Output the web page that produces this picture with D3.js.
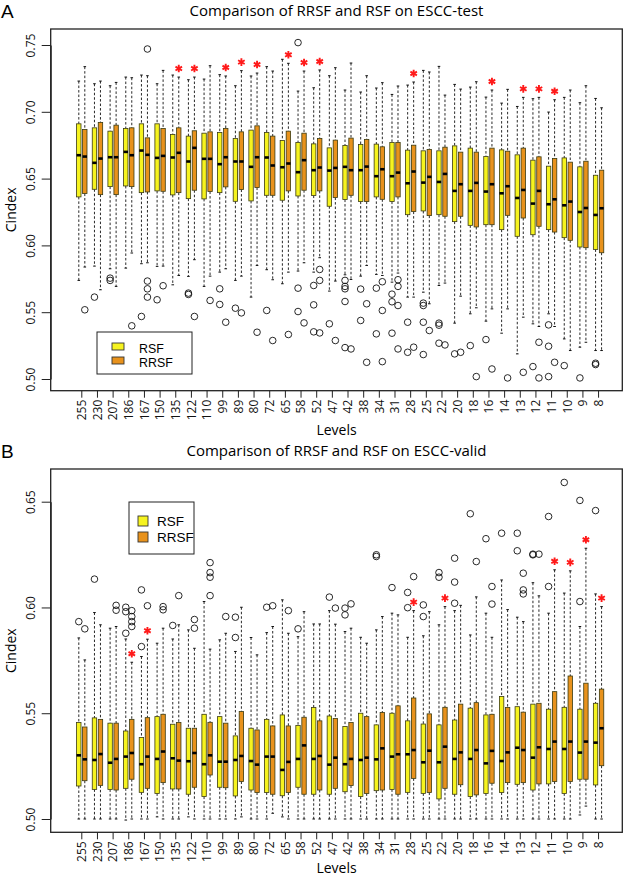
<!DOCTYPE html>
<html><head><meta charset="utf-8">
<script src="https://cdn.jsdelivr.net/npm/d3@7"></script>
<style>
html,body{margin:0;padding:0;background:#fff;}
svg{display:block;font-family:"Open Sans",sans-serif;}
</style></head>
<body>
<svg id="c" width="625" height="878"></svg>
<script>
const levels = ["255","230","207","186","167","150","135","122","110","99","89","80","72","65","58","52","47","42","38","34","31","28","25","22","20","18","16","14","13","12","11","10","9","8"];
const series = ["RSF","RRSF"];
const colors = ["#f6f31f","#e8921c"];

// Panel A: [lower whisker, Q1, median, Q3, upper whisker]
const rsfA = [
[0.5738,0.6363,0.6675,0.691,0.723],[0.5845,0.642,0.6618,0.688,0.721],[0.5825,0.644,0.666,0.6855,0.7195],
[0.583,0.6445,0.670,0.6875,0.726],[0.5863,0.6395,0.671,0.691,0.7275],[0.5843,0.6408,0.6655,0.691,0.721],
[0.5705,0.6378,0.6658,0.683,0.7275],[0.5768,0.635,0.6628,0.6818,0.724],[0.5693,0.6348,0.6648,0.684,0.7245],
[0.580,0.6395,0.6608,0.6845,0.7278],[0.5738,0.633,0.6628,0.680,0.7195],[0.5613,0.6333,0.6588,0.6863,0.7268],
[0.5818,0.6375,0.6658,0.6845,0.7338],[0.5713,0.6338,0.6585,0.6785,0.7393],[0.5808,0.637,0.6548,0.677,0.7155],
[0.580,0.6373,0.6563,0.676,0.718],[0.5658,0.6293,0.656,0.673,0.727],[0.578,0.6343,0.6588,0.6748,0.7163],
[0.577,0.6328,0.6563,0.6755,0.7148],[0.5783,0.6363,0.6518,0.6758,0.7178],[0.5725,0.6328,0.6518,0.677,0.713],
[0.5613,0.623,0.6465,0.6713,0.720],[0.565,0.6258,0.647,0.6708,0.731],[0.570,0.623,0.6475,0.6708,0.734],
[0.5418,0.6178,0.6408,0.6745,0.7205],[0.5488,0.615,0.6408,0.6728,0.7185],[0.5433,0.6155,0.6403,0.6665,0.711],
[0.5343,0.6118,0.639,0.6715,0.7065],[0.5188,0.6068,0.6355,0.6678,0.704],[0.5413,0.608,0.6313,0.6638,0.7098],
[0.5488,0.6118,0.6308,0.6593,0.6998],[0.530,0.6058,0.630,0.6655,0.7108],[0.5238,0.5988,0.625,0.6588,0.7068],
[0.5213,0.597,0.6228,0.6525,0.710]];
const rrsfA = [
[0.5838,0.6388,0.6665,0.6868,0.7338],[0.5668,0.638,0.665,0.692,0.723],[0.5693,0.638,0.666,0.690,0.722],
[0.5943,0.644,0.6675,0.688,0.7255],[0.587,0.640,0.6678,0.6805,0.727],[0.5845,0.6405,0.667,0.6875,0.731],
[0.5775,0.6395,0.6693,0.688,0.726],[0.5893,0.6413,0.673,0.6858,0.726],[0.577,0.6403,0.6648,0.685,0.7345],
[0.5825,0.6438,0.666,0.6875,0.7268],[0.577,0.6418,0.6628,0.685,0.7308],[0.585,0.6433,0.666,0.6895,0.729],
[0.5743,0.6375,0.6598,0.6818,0.7305],[0.580,0.6408,0.6613,0.6855,0.7363],[0.587,0.6413,0.6638,0.684,0.7305],
[0.5908,0.6408,0.6583,0.680,0.7313],[0.5733,0.6358,0.658,0.6788,0.733],[0.5745,0.6375,0.6563,0.6803,0.7365],
[0.585,0.6328,0.659,0.6793,0.727],[0.5775,0.6345,0.657,0.6738,0.7218],[0.5793,0.6363,0.6545,0.677,0.7193],
[0.5613,0.6253,0.6553,0.675,0.7223],[0.5563,0.6223,0.6513,0.6718,0.7298],[0.5718,0.6218,0.6535,0.6735,0.7125],
[0.562,0.6218,0.6458,0.6698,0.717],[0.5533,0.6138,0.6468,0.6698,0.7225],[0.5525,0.6155,0.6458,0.6728,0.7163],
[0.5525,0.6225,0.6443,0.6705,0.7168],[0.5463,0.6205,0.6415,0.6728,0.7108],[0.5393,0.6143,0.6408,0.6663,0.7108],
[0.5393,0.610,0.6345,0.665,0.709],[0.5213,0.6038,0.6328,0.6623,0.7163],[0.5275,0.5983,0.628,0.663,0.7195],
[0.5213,0.5945,0.6278,0.6563,0.703]];
const outliersA = [
["255","RRSF",0.5518],["230","RSF",0.5613],["207","RSF",0.5755],["207","RSF",0.5738],["186","RRSF",0.5398],
["167","RSF",0.5468],["167","RRSF",0.747],["167","RRSF",0.5733],["167","RRSF",0.5675],["167","RRSF",0.5613],
["150","RSF",0.5593],["150","RRSF",0.5698],["122","RSF",0.5643],["122","RSF",0.5633],["122","RRSF",0.5468],
["110","RRSF",0.5588],["99","RSF",0.5675],["99","RSF",0.5558],["99","RRSF",0.5425],["89","RSF",0.553],
["89","RRSF",0.5495],["80","RRSF",0.535],["72","RSF",0.5513],["72","RRSF",0.5288],["65","RRSF",0.5333],
["58","RSF",0.7518],["58","RSF",0.568],["58","RSF",0.5505],["58","RRSF",0.542],
["52","RSF",0.570],["52","RSF",0.5555],["52","RSF",0.5353],["52","RRSF",0.582],["52","RRSF",0.5738],["52","RRSF",0.5345],
["47","RSF",0.5413],["47","RRSF",0.5288],["42","RSF",0.5738],["42","RSF",0.5693],["42","RSF",0.5675],["42","RSF",0.558],
["42","RSF",0.5235],["42","RRSF",0.5225],["38","RSF",0.5673],["38","RSF",0.5438],["38","RRSF",0.5563],["38","RRSF",0.5125],
["34","RSF",0.568],["34","RSF",0.5338],["34","RRSF",0.5728],["34","RRSF",0.5513],["34","RRSF",0.513],
["31","RSF",0.5635],["31","RSF",0.5578],["31","RSF",0.5343],["31","RRSF",0.5743],["31","RRSF",0.5693],["31","RRSF",0.555],["31","RRSF",0.5225],
["28","RSF",0.5425],["28","RSF",0.520],["28","RRSF",0.5238],
["25","RSF",0.5568],["25","RSF",0.555],["25","RSF",0.5425],["25","RSF",0.5183],["25","RRSF",0.5363],
["22","RSF",0.5418],["22","RSF",0.5403],["22","RSF",0.5268],["22","RRSF",0.5255],
["20","RSF",0.5188],["20","RRSF",0.520],["18","RSF",0.525],["18","RRSF",0.5018],["16","RSF",0.5295],["16","RRSF",0.5075],
["14","RRSF",0.5008],["13","RRSF",0.505],["12","RSF",0.5093],["12","RRSF",0.5275],["12","RRSF",0.5008],
["11","RSF",0.5405],["11","RSF",0.5245],["11","RSF",0.5018],["11","RRSF",0.5125],["10","RSF",0.510],
["9","RSF",0.5008],["8","RSF",0.5118],["8","RSF",0.5108]];
const starsA = ["135","122","99","89","80","65","58","52","28","16","13","12","11"];
const ticksA = [0.50,0.55,0.60,0.65,0.70,0.75];

// Panel B
const rsfB = [
[0.50,0.5156,0.5301,0.5456,0.5856],[0.50,0.514,0.5279,0.5478,0.5976],[0.50,0.514,0.5266,0.5453,0.5902],
[0.4995,0.5145,0.5295,0.5416,0.5851],[0.50,0.5126,0.5259,0.5385,0.5768],[0.501,0.5121,0.5284,0.5484,0.5831],
[0.50,0.5142,0.5287,0.5448,0.5851],[0.501,0.5117,0.5273,0.5429,0.5894],[0.50,0.5106,0.5259,0.5495,0.6028],
[0.50,0.515,0.5271,0.5484,0.5847],[0.50,0.5109,0.5279,0.5393,0.5792],[0.50,0.5137,0.5274,0.5429,0.5858],
[0.50,0.5125,0.5295,0.5471,0.5881],[0.501,0.511,0.5232,0.5492,0.6036],[0.50,0.515,0.5284,0.5442,0.5862],
[0.50,0.5117,0.5284,0.5527,0.5922],[0.50,0.5117,0.5257,0.5487,0.5985],[0.50,0.5129,0.5259,0.5437,0.5886],
[0.50,0.5106,0.5279,0.55,0.5859],[0.50,0.5134,0.5282,0.5445,0.5894],[0.50,0.514,0.5295,0.55,0.5973],
[0.50,0.5126,0.5306,0.5464,0.5859],[0.50,0.5121,0.5268,0.5449,0.5866],[0.50,0.5095,0.5268,0.5445,0.5918],
[0.50,0.5117,0.5284,0.5468,0.5985],[0.50,0.5106,0.5284,0.5524,0.587],[0.50,0.5121,0.5263,0.5492,0.5973],
[0.50,0.5125,0.5274,0.5579,0.613],[0.50,0.5164,0.5337,0.5531,0.5954],[0.50,0.5137,0.529,0.5543,0.6117],
[0.50,0.5166,0.5331,0.5519,0.5973],[0.50,0.5121,0.5331,0.5528,0.6068],[0.5019,0.5188,0.5314,0.5519,0.591],
[0.50,0.5161,0.5361,0.5547,0.6064]];
const rrsfB = [
[0.50,0.5181,0.5282,0.5435,0.5752],[0.50,0.5159,0.5307,0.5471,0.5918],[0.50,0.5137,0.5284,0.5453,0.591],
[0.50,0.5188,0.5312,0.5471,0.5741],[0.50,0.5145,0.5295,0.5479,0.585],[0.50,0.5172,0.5319,0.5495,0.5902],
[0.50,0.5142,0.5276,0.5456,0.5918],[0.50,0.515,0.5312,0.5429,0.5807],[0.50,0.5208,0.5301,0.5457,0.5803],
[0.50,0.5148,0.5271,0.5453,0.5878],[0.501,0.5177,0.5298,0.5508,0.6001],[0.50,0.5125,0.5257,0.5421,0.5776],
[0.5027,0.5117,0.5295,0.544,0.591],[0.50,0.5125,0.527,0.544,0.5878],[0.50,0.5117,0.5348,0.5481,0.598],
[0.50,0.5137,0.5298,0.5464,0.5922],[0.50,0.5145,0.529,0.5475,0.5921],[0.50,0.5158,0.5284,0.5456,0.5902],
[0.50,0.5121,0.529,0.5484,0.5831],[0.50,0.5137,0.5334,0.5503,0.5957],[0.50,0.5117,0.5306,0.5535,0.5965],
[0.50,0.5192,0.5326,0.5572,0.5985],[0.50,0.5125,0.5323,0.5497,0.598],[0.50,0.5145,0.5342,0.5528,0.6004],
[0.50,0.5162,0.5315,0.5543,0.601],[0.50,0.5114,0.5326,0.555,0.605],[0.50,0.5169,0.5322,0.5495,0.5859],
[0.50,0.5172,0.5315,0.5527,0.599],[0.50,0.5172,0.5326,0.5505,0.5933],[0.50,0.5166,0.5339,0.5547,0.6055],
[0.50,0.5177,0.5366,0.5602,0.6178],[0.50,0.5177,0.5366,0.5676,0.6173],[0.5061,0.5188,0.5366,0.5642,0.628],
[0.50,0.5252,0.5429,0.5614,0.6004]];
const outliersB = [
["255","RSF",0.5933],["255","RRSF",0.5899],["230","RSF",0.6134],["207","RRSF",0.601],["207","RRSF",0.5987],
["186","RSF",0.6001],["186","RSF",0.598],["186","RSF",0.5878],["186","RRSF",0.5985],["186","RRSF",0.5957],
["186","RRSF",0.5933],["186","RRSF",0.591],["167","RSF",0.6083],["167","RSF",0.5815],["167","RRSF",0.6008],
["150","RRSF",0.6004],["150","RRSF",0.5989],["135","RSF",0.5915],["135","RRSF",0.6056],["122","RRSF",0.5943],
["122","RRSF",0.5902],["110","RRSF",0.6212],["110","RRSF",0.6165],["110","RRSF",0.6143],["110","RRSF",0.6056],
["99","RRSF",0.5957],["89","RSF",0.5954],["89","RSF",0.5858],["72","RSF",0.6001],["72","RRSF",0.6008],
["65","RRSF",0.5985],["58","RSF",0.5899],["47","RSF",0.6049],["47","RRSF",0.5997],["42","RSF",0.5997],
["42","RSF",0.5965],["42","RRSF",0.6017],["34","RSF",0.6249],["34","RSF",0.6241],["31","RSF",0.6094],
["28","RSF",0.6071],["28","RSF",0.5999],["28","RRSF",0.6146],["25","RSF",0.6012],["25","RSF",0.5957],
["22","RSF",0.6165],["22","RSF",0.6143],["20","RSF",0.6233],["20","RSF",0.612],["20","RSF",0.602],
["18","RSF",0.6443],["18","RRSF",0.6217],["16","RSF",0.6325],["16","RRSF",0.6099],["16","RRSF",0.6016],
["14","RSF",0.6351],["13","RSF",0.6351],["13","RSF",0.6268],["13","RRSF",0.6162],["13","RRSF",0.6083],
["13","RRSF",0.6064],["12","RSF",0.6252],["12","RSF",0.6249],["12","RRSF",0.6252],["11","RSF",0.643],
["11","RSF",0.6099],["10","RSF",0.6591],["9","RSF",0.6506],["9","RSF",0.6028],["8","RSF",0.6458]];
const starsB = ["186","167","28","22","11","10","9","8"];
const ticksB = [0.50,0.55,0.60,0.65];

const titles = ["Comparison of RRSF and RSF on ESCC-test","Comparison of RRSF and RSF on ESCC-valid"];
const panelLetters = ["A","B"];

const svg = d3.select("#c");
const fmt = d3.format(".2f");

const x = d3.scaleBand().domain(levels).range([73.97, 606.4]).padding(0);
const xs = d3.scaleBand().domain(series).range([-6, 6]).padding(0);
const boxW = 4.4;

function panel(cfg){
  const g = svg.append("g");
  const {left,right,top,bottom,y} = cfg;
  // panel letter and title
  g.append("text").attr("x",1).attr("y",cfg.letterY).attr("font-size",19)
    .attr("font-family","Liberation Sans").text(cfg.letter);
  g.append("text").attr("x",(left+right)/2).attr("y",cfg.titleY).attr("text-anchor","middle")
    .attr("font-size",15).text(cfg.title);

  // boxes
  const data = [];
  levels.forEach((lv,i)=>{
    data.push({lv,s:"RSF",v:cfg.rsf[i],c:colors[0]});
    data.push({lv,s:"RRSF",v:cfg.rrsf[i],c:colors[1]});
  });
  const bg = g.selectAll("g.box").data(data).join("g").attr("class","box")
    .attr("transform",d=>`translate(${x(d.lv)+x.bandwidth()/2+xs(d.s)+xs.bandwidth()/2},0)`);
  // whiskers
  bg.append("line").attr("y1",d=>y(d.v[4])).attr("y2",d=>y(d.v[3]))
    .attr("stroke","#111").attr("stroke-width",0.9).attr("stroke-dasharray","2.5,2");
  bg.append("line").attr("y1",d=>y(d.v[1])).attr("y2",d=>y(d.v[0]))
    .attr("stroke","#111").attr("stroke-width",0.9).attr("stroke-dasharray","2.5,2");
  bg.append("line").attr("x1",-1.3).attr("x2",1.3).attr("y1",d=>y(d.v[4])).attr("y2",d=>y(d.v[4]))
    .attr("stroke","#111").attr("stroke-width",1);
  bg.append("line").attr("x1",-1.3).attr("x2",1.3).attr("y1",d=>y(d.v[0])).attr("y2",d=>y(d.v[0]))
    .attr("stroke","#111").attr("stroke-width",1);
  bg.append("rect").attr("x",-boxW/2).attr("width",boxW)
    .attr("y",d=>y(d.v[3])).attr("height",d=>y(d.v[1])-y(d.v[3]))
    .attr("fill",d=>d.c).attr("stroke","#3a3a10").attr("stroke-width",0.8);
  bg.append("line").attr("x1",-boxW/2).attr("x2",boxW/2).attr("y1",d=>y(d.v[2])).attr("y2",d=>y(d.v[2]))
    .attr("stroke","#000").attr("stroke-width",2.6);

  // outliers
  g.selectAll("circle.out").data(cfg.outliers).join("circle").attr("class","out")
    .attr("cx",d=>x(d[0])+x.bandwidth()/2+xs(d[1])+xs.bandwidth()/2)
    .attr("cy",d=>y(d[2])).attr("r",3.3)
    .attr("fill","none").attr("stroke","#111").attr("stroke-width",0.9);

  // stars
  const sym = d3.symbol(d3.symbolAsterisk, 40);
  g.selectAll("path.star").data(cfg.stars).join("path").attr("class","star")
    .attr("d",sym)
    .attr("transform",d=>{
      const i = levels.indexOf(d);
      const cx = x(d)+x.bandwidth()/2+xs("RRSF")+xs.bandwidth()/2;
      return `translate(${cx},${y(cfg.rrsf[i][4])-8.5})`;
    })
    .attr("stroke","#ff1a1a").attr("stroke-width",1.9).attr("fill","none");

  // y axis
  const ya = g.append("g").attr("transform",`translate(${left},0)`)
    .call(d3.axisLeft(y).tickValues(cfg.ticks).tickFormat(fmt).tickSize(9).tickSizeOuter(0));
  ya.select(".domain").attr("stroke","#222");
  ya.selectAll(".tick line").attr("stroke","#222");
  ya.selectAll(".tick text").attr("x",0).attr("dy",0).attr("text-anchor","middle")
    .attr("transform","translate(-15.5,0) rotate(-90)")
    .attr("font-size",12).attr("font-family","Open Sans").attr("fill","#111");

  // x axis
  const xa = g.append("g").attr("transform",`translate(0,${bottom})`)
    .call(d3.axisBottom(x).tickSize(7).tickSizeOuter(0));
  xa.select(".domain").remove();
  xa.selectAll(".tick line").attr("stroke","#222");
  xa.selectAll(".tick text").attr("y",0).attr("dy",0).attr("text-anchor","end")
    .attr("transform","translate(4.3,9) rotate(-90)")
    .attr("font-size",12).attr("font-family","Open Sans").attr("fill","#111");

  // frame
  g.append("rect").attr("x",left).attr("y",top).attr("width",right-left).attr("height",bottom-top)
    .attr("fill","none").attr("stroke","#222").attr("stroke-width",1.3);

  // axis titles
  g.append("text").attr("transform",`translate(16,${(top+bottom)/2}) rotate(-90)`)
    .attr("text-anchor","middle").attr("font-size",14).text("Cindex");
  g.append("text").attr("x",(left+right)/2).attr("y",cfg.levelsY).attr("text-anchor","middle")
    .attr("font-size",14).text("Levels");

  // legend
  const L = cfg.legend;
  const lg = g.append("g");
  lg.append("rect").attr("x",L.x).attr("y",L.y).attr("width",L.w).attr("height",L.h)
    .attr("fill","#fff").attr("stroke","#222").attr("stroke-width",1);
  series.forEach((s,i)=>{
    lg.append("rect").attr("x",L.sx).attr("y",L.sy[i]).attr("width",L.sw).attr("height",L.sh)
      .attr("fill",colors[i]).attr("stroke","#333").attr("stroke-width",0.9);
    lg.append("text").attr("x",L.tx).attr("y",L.ty[i]).attr("font-size",L.fs)
      .attr("font-family","Liberation Sans").text(s);
  });
}

panel({letter:panelLetters[0],title:titles[0],letterY:17.5,titleY:16,left:50.7,right:622.3,top:29,bottom:390.7,
  y:d3.scaleLinear().domain([0.50,0.75]).range([379,45]),
  rsf:rsfA,rrsf:rrsfA,outliers:outliersA,stars:starsA,ticks:ticksA,levelsY:435,
  legend:{x:97,y:332,w:95,h:42,sx:112,sy:[343,357],sw:12,sh:7,tx:139,ty:[352.5,366.5],fs:12.4}});
panel({letter:panelLetters[1],title:titles[1],letterY:457.5,titleY:456,left:50.7,right:622.3,top:469,bottom:832.3,
  y:d3.scaleLinear().domain([0.50,0.65]).range([819,501.7]),
  rsf:rsfB,rrsf:rrsfB,outliers:outliersB,stars:starsB,ticks:ticksB,levelsY:873,
  legend:{x:129,y:502,w:65,h:52,sx:138,sy:[516,532],sw:10,sh:10,tx:157,ty:[525.5,541.5],fs:13.5}});
</script>
</body></html>
